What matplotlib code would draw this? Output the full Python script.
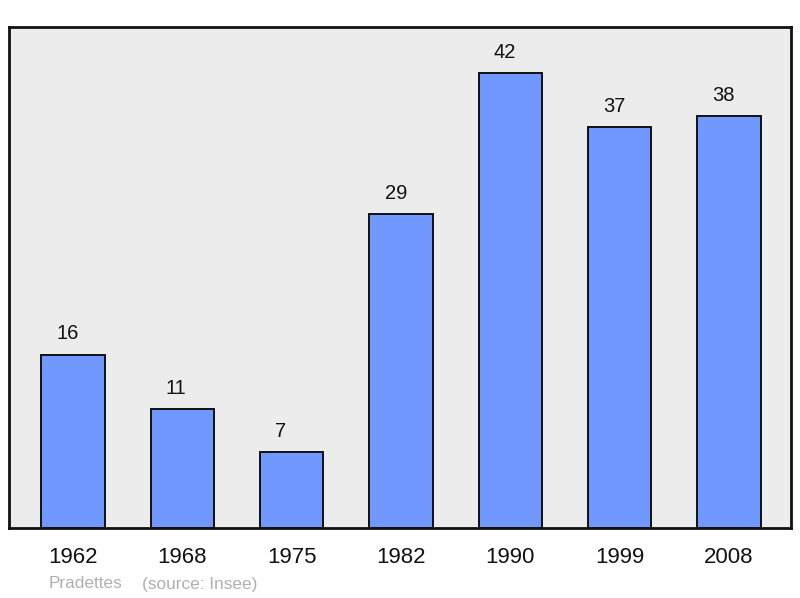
import matplotlib
matplotlib.use("Agg")
import matplotlib.pyplot as plt

years = ["1962", "1968", "1975", "1982", "1990", "1999", "2008"]
values = [16, 11, 7, 29, 42, 37, 38]
commune = "Pradettes"
source = "(source: Insee)"

plt.rcParams['font.family'] = ['Liberation Sans', 'DejaVu Sans']

fig = plt.figure(figsize=(8.0, 5.98), dpi=100)
W, H = 800, 598
ax = fig.add_axes([9 / W, 1 - 528 / H, (791 - 9) / W, (528 - 27) / H])
ax.set_facecolor('#ececec')

bw = 0.58
x = list(range(len(years)))
ax.bar(x, values, width=bw, color='#7098ff', edgecolor='#111111', linewidth=1.4, zorder=2)
for xi, v in zip(x, values):
    ax.annotate(str(v), (xi - bw / 2, v), xytext=(11, 11), textcoords='offset points',
                ha='left', va='baseline', fontsize=14.5, color='#111111')

ax.set_xlim(-0.585, 6.567)
ax.set_ylim(0, 46.25)
ax.set_yticks([])
ax.set_xticks(x)
ax.set_xticklabels(years, fontsize=16)
ax.tick_params(axis='x', length=0, pad=14, colors='#111111')
for s in ax.spines.values():
    s.set_linewidth(2)
    s.set_color('#111111')

fig.text(49 / W, 1 - 584 / H, commune, fontsize=12.4, color='#b0b0b0', va='center', ha='left')
fig.text(142 / W, 1 - 584 / H, source, fontsize=12.4, color='#b0b0b0', va='center', ha='left')

fig.savefig('out.png', dpi=100, facecolor='white')
